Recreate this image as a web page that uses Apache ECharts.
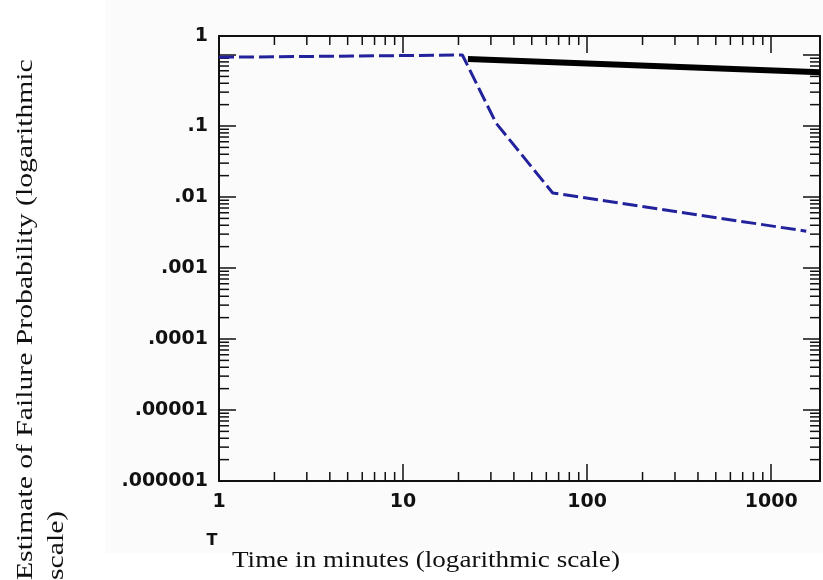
<!DOCTYPE html>
<html><head><meta charset="utf-8">
<script src="https://cdn.jsdelivr.net/npm/echarts@6/dist/echarts.min.js"></script>
<style>html,body{margin:0;padding:0;background:#fff}#c{width:823px;height:580px}</style>
</head><body><div id="c"></div>
<script>
// ---- data ----
const xTickLabels = ['1', '10', '100', '1000'];
const yTickLabels = ['.000001', '.00001', '.0001', '.001', '.01', '.1', '1'];
const blueTime = [1, 21, 32, 65, 1550];
const blueProb = [0.93, 1.0, 0.11, 0.0114, 0.0033];
const blackTime = [22.5, 1840];
const blackProb = [0.88, 0.57];
const xTitle = 'Time in minutes (logarithmic scale)';
const yTitle = 'Estimate of Failure Probability (logarithmic\nscale)';

const xMin = 1, xMax = 1841, yMin = 1e-6, yMax = 1.853;

function decadeIdx(v, base) {
  const e = Math.log10(v / base); const r = Math.round(e);
  return Math.abs(e - r) < 1e-6 ? r : null;
}
// minor (2..9 x 10^k) axis tick positions
const minorX = [];
for (let e = 0; e <= 3; e++) for (let k = 2; k <= 9; k++) { const v = k * Math.pow(10, e); if (v < xMax) minorX.push(v); }
const minorY = [];
for (let e = -6; e <= 0; e++) for (let k = 2; k <= 9; k++) { const v = k * Math.pow(10, e); if (v < yMax) minorY.push(v); }

const INK = '#111';
const chart = echarts.init(document.getElementById('c'));
const axisCommon = {
  axisLine: { show: true, lineStyle: { color: INK, width: 2 } },
  axisTick: { show: true, inside: true, length: 17, lineStyle: { color: INK, width: 1.5 } },
  splitLine: { show: false },
  minorTick: { show: false }
};
const labelFont = { color: INK, fontFamily: 'DejaVu Sans', fontWeight: 'bold', fontSize: 19 };
chart.setOption({
  backgroundColor: '#ffffff',
  animation: false,
  grid: { left: 219, right: 0, top: 36, bottom: 99 },
  xAxis: [
    Object.assign({
      type: 'log', logBase: 10, min: xMin, max: xMax, position: 'bottom',
      axisLabel: Object.assign({
        show: true, margin: 12, showMaxLabel: true, showMinLabel: true,
        formatter: v => { const i = decadeIdx(v, 1); return (i !== null && i >= 0 && i < xTickLabels.length) ? xTickLabels[i] : ''; }
      }, labelFont)
    }, axisCommon),
    Object.assign({
      type: 'log', logBase: 10, min: xMin, max: xMax, position: 'top', axisLabel: { show: false }
    }, axisCommon)
  ],
  yAxis: [
    Object.assign({
      type: 'log', logBase: 10, min: yMin, max: yMax, position: 'left',
      axisLabel: Object.assign({
        show: true, margin: 11, showMaxLabel: true, showMinLabel: true,
        formatter: v => {
          if (v >= yMax * 0.999) return yTickLabels[6];
          const i = decadeIdx(v, 1e-6); return (i !== null && i >= 0 && i < 6) ? yTickLabels[i] : '';
        }
      }, labelFont)
    }, axisCommon),
    Object.assign({
      type: 'log', logBase: 10, min: yMin, max: yMax, position: 'right', axisLabel: { show: false }
    }, axisCommon)
  ],
  graphic: [
    { type: 'rect', z: -10, shape: { x: 105, y: 0, width: 718, height: 553 }, style: { fill: '#fbfbfb' } },
    { type: 'text', x: 232, y: 561, scaleX: 1.18,
      style: { text: xTitle, fontFamily: 'Liberation Serif', fontSize: 23, fill: INK, align: 'left', verticalAlign: 'middle' } },
    { type: 'text', x: 10, y: 580, rotation: Math.PI / 2, scaleX: 1.29,
      style: { text: yTitle, fontFamily: 'Liberation Serif', fontSize: 23, lineHeight: 31, fill: INK, align: 'left', verticalAlign: 'top' } },
    { type: 'text', x: 212, y: 541,
      style: { text: 'T', fontFamily: 'DejaVu Sans', fontWeight: 'bold', fontSize: 16, fill: INK, align: 'center', verticalAlign: 'middle' } }
  ],
  series: [
    {
      type: 'custom', xAxisIndex: 0, yAxisIndex: 0, silent: true, z: 3, clip: false,
      data: minorX.map(v => [v, yMin]),
      renderItem: (params, api) => {
        const cs = params.coordSys; const x = api.coord([api.value(0), yMin])[0];
        const st = { stroke: INK, lineWidth: 1.5 };
        return { type: 'group', children: [
          { type: 'line', shape: { x1: x, y1: cs.y + cs.height, x2: x, y2: cs.y + cs.height - 9 }, style: st },
          { type: 'line', shape: { x1: x, y1: cs.y, x2: x, y2: cs.y + 9 }, style: st }
        ] };
      }
    },
    {
      type: 'custom', xAxisIndex: 0, yAxisIndex: 0, silent: true, z: 3, clip: false,
      data: minorY.map(v => [xMin, v]),
      renderItem: (params, api) => {
        const cs = params.coordSys; const y = api.coord([xMin, api.value(1)])[1];
        const st = { stroke: INK, lineWidth: 1.5 };
        return { type: 'group', children: [
          { type: 'line', shape: { x1: cs.x, y1: y, x2: cs.x + 10, y2: y }, style: st },
          { type: 'line', shape: { x1: cs.x + cs.width, y1: y, x2: cs.x + cs.width - 10, y2: y }, style: st }
        ] };
      }
    },
    {
      name: 'black', type: 'line', xAxisIndex: 0, yAxisIndex: 0, symbol: 'none', z: 4,
      data: blackTime.map((t, i) => [t, blackProb[i]]),
      lineStyle: { color: '#000', width: 6, cap: 'butt' }
    },
    {
      name: 'blue', type: 'line', xAxisIndex: 0, yAxisIndex: 0, symbol: 'none', z: 5,
      data: blueTime.map((t, i) => [t, blueProb[i]]),
      lineStyle: { color: '#22229c', width: 3, type: [15, 5] }
    }
  ]
});
</script></body></html>
